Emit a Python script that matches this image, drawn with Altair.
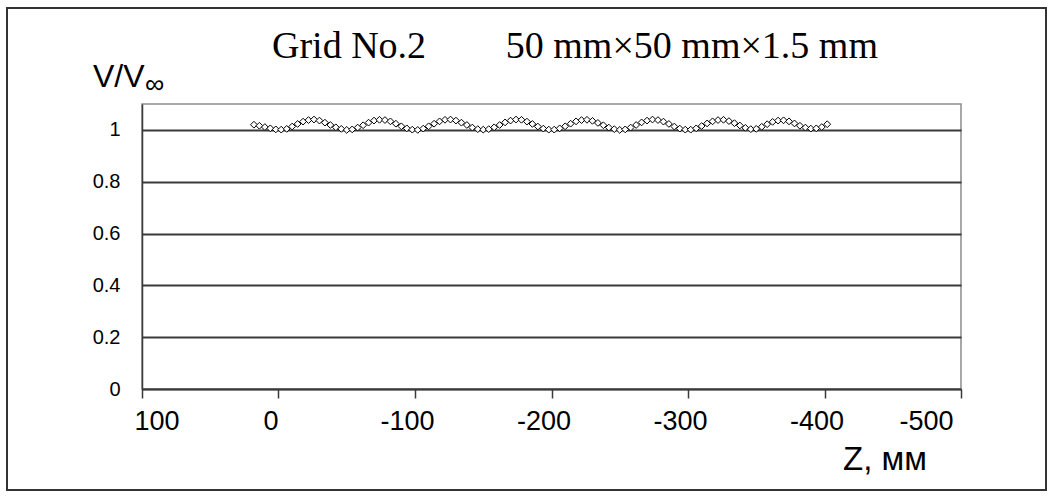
import altair as alt
import pandas as pd

# Measured profile: Z position (mm) and velocity ratio V/Vinf
z_mm = [18, 14, 10, 6, 2,
        -2, -6, -10, -14, -18, -22, -26, -30, -34, -38, -42, -46,
        -50, -54, -58, -62, -66, -70, -74, -78, -82, -86, -90, -94, -98,
        -102, -106, -110, -114, -118, -122, -126, -130, -134, -138, -142, -146,
        -150, -154, -158, -162, -166, -170, -174, -178, -182, -186, -190, -194, -198,
        -202, -206, -210, -214, -218, -222, -226, -230, -234, -238, -242, -246,
        -250, -254, -258, -262, -266, -270, -274, -278, -282, -286, -290, -294, -298,
        -302, -306, -310, -314, -318, -322, -326, -330, -334, -338, -342, -346,
        -350, -354, -358, -362, -366, -370, -374, -378, -382, -386, -390, -394, -398, -402]
v_ratio = [1.020, 1.016, 1.011, 1.006, 1.002,
           1.001, 1.004, 1.013, 1.023, 1.032, 1.038, 1.040, 1.036, 1.028, 1.019, 1.010, 1.004,
           1.000, 1.002, 1.009, 1.018, 1.028, 1.036, 1.039, 1.038, 1.033, 1.024, 1.014, 1.006, 1.001,
           1.000, 1.005, 1.014, 1.024, 1.033, 1.039, 1.040, 1.036, 1.028, 1.019, 1.009, 1.003,
           1.001, 1.003, 1.010, 1.019, 1.029, 1.036, 1.040, 1.039, 1.032, 1.023, 1.013, 1.005, 1.001,
           1.001, 1.006, 1.014, 1.024, 1.033, 1.038, 1.039, 1.035, 1.027, 1.018, 1.009, 1.003,
           1.000, 1.002, 1.009, 1.019, 1.029, 1.036, 1.040, 1.038, 1.032, 1.023, 1.013, 1.005, 1.001,
           1.001, 1.006, 1.015, 1.025, 1.033, 1.038, 1.039, 1.034, 1.026, 1.017, 1.008, 1.003,
           1.004, 1.012, 1.022, 1.031, 1.036, 1.037, 1.033, 1.025, 1.016, 1.009, 1.005, 1.006, 1.011, 1.022]

x_ticks = [100, 0, -100, -200, -300, -400, -500]
y_ticks = [0, 0.2, 0.4, 0.6, 0.8, 1]
title_left = "Grid No.2"
title_right = "50 mm\u00d750 mm\u00d71.5 mm"
y_title = "V/V"
y_title_sub = "\u221e"
x_title = "Z, \u043c\u043c"

df = pd.DataFrame({"z": z_mm, "v": v_ratio})

W, H = 819, 285
SANS = "Liberation Sans"
SERIF = "Liberation Serif"
GRID = "#3a3a3a"

x_enc = alt.X(
    "z:Q",
    scale=alt.Scale(domain=[100, -500], nice=False, zero=False),
    axis=alt.Axis(values=x_ticks, title=None, grid=False, ticks=True, tickSize=9,
                  tickColor=GRID, tickWidth=1.5, domainColor=GRID, domainWidth=1.5,
                  labelFont=SANS, labelFontSize=27, labelColor="black", labelPadding=10,
                  labelOffset=-8, labelExpr="'' + datum.value"),
)
y_enc = alt.Y(
    "v:Q",
    scale=alt.Scale(domain=[0, 1.1], nice=False, zero=True),
    axis=alt.Axis(values=y_ticks, title=None, grid=True, gridColor=GRID, gridWidth=1.8,
                  gridOpacity=1, ticks=False, domainColor=GRID, domainWidth=1.5,
                  labelFont=SANS, labelFontSize=20, labelColor="black", labelPadding=22,
                  labelExpr="'' + datum.value"),
)

points = alt.Chart(df).mark_point(
    shape="diamond", filled=True, fill="white", stroke="black", strokeWidth=1,
    size=46, opacity=1
).encode(x=x_enc, y=y_enc)

one = pd.DataFrame({"a": [0]})

border = alt.Chart(one).mark_rect(
    fillOpacity=0, stroke="#333333", strokeWidth=2
).encode(x=alt.value(-135), x2=alt.value(904), y=alt.value(-96), y2=alt.value(386))

title_a = alt.Chart(one).mark_text(
    text=title_left, font=SERIF, fontSize=38, color="black", align="left", baseline="alphabetic"
).encode(x=alt.value(130), y=alt.value(-46))

title_b = alt.Chart(one).mark_text(
    text=title_right, font=SERIF, fontSize=38, color="black", align="right", baseline="alphabetic"
).encode(x=alt.value(736), y=alt.value(-46))

ytitle = alt.Chart(one).mark_text(
    text=y_title, font=SANS, fontSize=32, color="black", align="left", baseline="alphabetic"
).encode(x=alt.value(-49), y=alt.value(-17))

ysub = alt.Chart(one).mark_text(
    text=y_title_sub, font=SANS, fontSize=27, color="black", align="left", baseline="alphabetic"
).encode(x=alt.value(3), y=alt.value(-11))

xtitle = alt.Chart(one).mark_text(
    text=x_title, font=SANS, fontSize=33, color="black", align="center", baseline="alphabetic"
).encode(x=alt.value(743), y=alt.value(366))

chart = alt.layer(border, points, title_a, title_b, ytitle, ysub, xtitle).properties(
    width=W, height=H,
    padding={"left": 142, "top": 104, "right": 92, "bottom": 108},
    autosize=alt.AutoSizeParams(type="none"),
    background="white",
).configure_view(stroke="#8c8c8c", strokeWidth=1.5)

chart.save("out.html", embed_options={"renderer": "svg", "actions": False})
